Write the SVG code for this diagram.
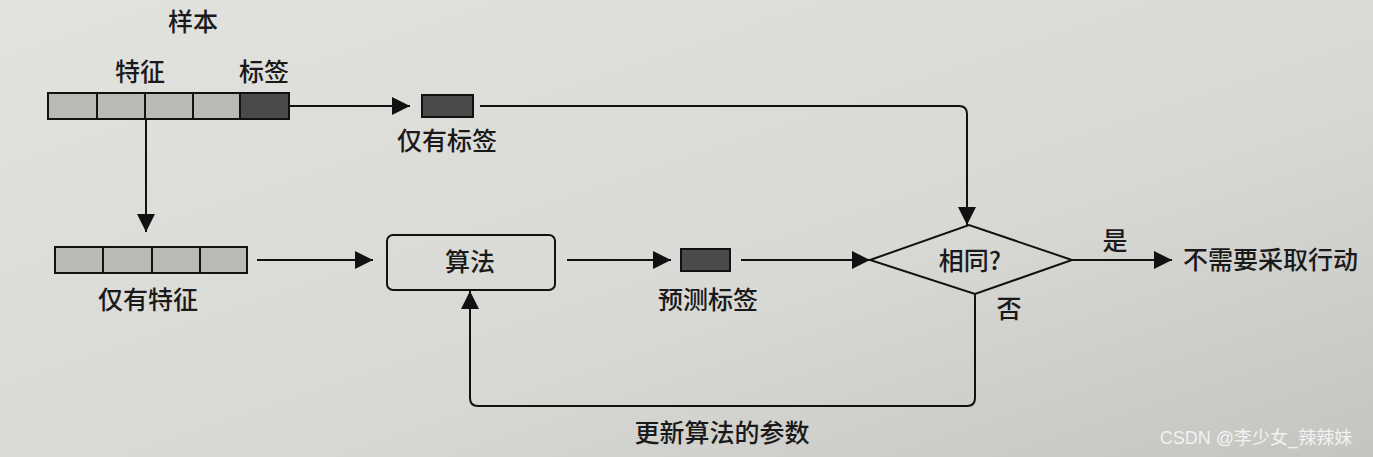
<svg xmlns="http://www.w3.org/2000/svg" width="1373" height="457" viewBox="0 0 1373 457">
<defs>
<style>
.t{font-family:"Noto Sans CJK SC","Liberation Sans",sans-serif;font-size:25px;fill:#1a1a1a;font-weight:500}
.ln{fill:none;stroke:#111;stroke-width:2}
.cell{fill:#b9b9b6;stroke:#111;stroke-width:2}
.dark{fill:#4a4a4a;stroke:#111;stroke-width:2}
</style>
<linearGradient id="bg" x1="0" y1="0" x2="1" y2="1">
<stop offset="0" stop-color="#e2e2df"/>
<stop offset="0.6" stop-color="#d8d8d5"/>
<stop offset="1" stop-color="#c4c4c1"/>
</linearGradient>
<pattern id="spk" width="6" height="6" patternUnits="userSpaceOnUse">
<rect width="6" height="6" fill="#bdbdba"/>
<rect x="1" y="1" width="2" height="1" fill="#8f8f8c"/>
<rect x="4" y="3" width="1" height="2" fill="#9a9a97"/>
<rect x="2" y="4" width="1" height="1" fill="#d2d2cf"/>
</pattern>
<pattern id="spkd" width="6" height="6" patternUnits="userSpaceOnUse">
<rect width="6" height="6" fill="#4c4c4a"/>
<rect x="1" y="1" width="2" height="1" fill="#2a2a28"/>
<rect x="4" y="3" width="1" height="2" fill="#7a7a78"/>
</pattern>
<marker id="ah" viewBox="0 0 10 10" refX="10" refY="5" markerWidth="18" markerHeight="18" markerUnits="userSpaceOnUse" orient="auto">
<path d="M0,0 L10,5 L0,10 z" fill="#111"/>
</marker>
</defs>
<rect width="1373" height="457" fill="url(#bg)"/>

<g id="sample">
<text class="t" x="193" y="31" text-anchor="middle">样本</text>
<text class="t" x="140" y="81" text-anchor="middle">特征</text>
<text class="t" x="264" y="81" text-anchor="middle">标签</text>
<rect class="cell" x="48" y="93" width="49" height="26" fill="url(#spk)"/>
<rect class="cell" x="97" y="93" width="48" height="26" fill="url(#spk)"/>
<rect class="cell" x="145" y="93" width="48" height="26" fill="url(#spk)"/>
<rect class="cell" x="193" y="93" width="47" height="26" fill="url(#spk)"/>
<rect class="dark" x="240" y="93" width="49" height="26" fill="url(#spkd)"/>
</g>

<g id="label-only">
<rect class="dark" x="422" y="95" width="51" height="22" fill="url(#spkd)"/>
<text class="t" x="447" y="150" text-anchor="middle">仅有标签</text>
</g>

<g id="features-only">
<rect class="cell" x="55" y="247" width="48" height="26" fill="url(#spk)"/>
<rect class="cell" x="103" y="247" width="49" height="26" fill="url(#spk)"/>
<rect class="cell" x="152" y="247" width="48" height="26" fill="url(#spk)"/>
<rect class="cell" x="200" y="247" width="47" height="26" fill="url(#spk)"/>
<text class="t" x="148" y="309" text-anchor="middle">仅有特征</text>
</g>

<g id="algorithm">
<rect x="387" y="235" width="168" height="55" rx="6" fill="none" stroke="#111" stroke-width="2"/>
<text class="t" x="470" y="271" text-anchor="middle">算法</text>
</g>

<g id="predicted">
<rect class="dark" x="681" y="249" width="49" height="22" fill="url(#spkd)"/>
<text class="t" x="708" y="309" text-anchor="middle">预测标签</text>
</g>

<g id="decision">
<polygon points="870,260 969,225 1072,260 975,294" fill="none" stroke="#111" stroke-width="2"/>
<text class="t" x="970" y="270" text-anchor="middle">相同?</text>
</g>

<g id="no-action">
<text class="t" x="1183" y="269">不需要采取行动</text>
</g>

<g id="connectors">
<line class="ln" x1="289" y1="106" x2="410" y2="106" marker-end="url(#ah)"/>
<path class="ln" d="M480,106 H959 Q967,106 967,114 V225" marker-end="url(#ah)"/>
<line class="ln" x1="146" y1="119" x2="146" y2="232" marker-end="url(#ah)"/>
<line class="ln" x1="257" y1="260" x2="373" y2="260" marker-end="url(#ah)"/>
<line class="ln" x1="567" y1="260" x2="671" y2="260" marker-end="url(#ah)"/>
<line class="ln" x1="741" y1="260" x2="870" y2="260" marker-end="url(#ah)"/>
<line class="ln" x1="1072" y1="260" x2="1172" y2="260" marker-end="url(#ah)"/>
<path class="ln" d="M975,294 V398 Q975,406 967,406 H478 Q470,406 470,398 V291" marker-end="url(#ah)"/>
<text class="t" x="1115" y="250" text-anchor="middle">是</text>
<text class="t" x="1009" y="318" text-anchor="middle">否</text>
<text class="t" x="722" y="442" text-anchor="middle">更新算法的参数</text>
</g>

<text x="1256" y="444" text-anchor="middle" font-family="Liberation Sans,'Noto Sans CJK SC',sans-serif" font-size="18" fill="#f2f2f2">CSDN @李少女_辣辣妹</text>
</svg>
